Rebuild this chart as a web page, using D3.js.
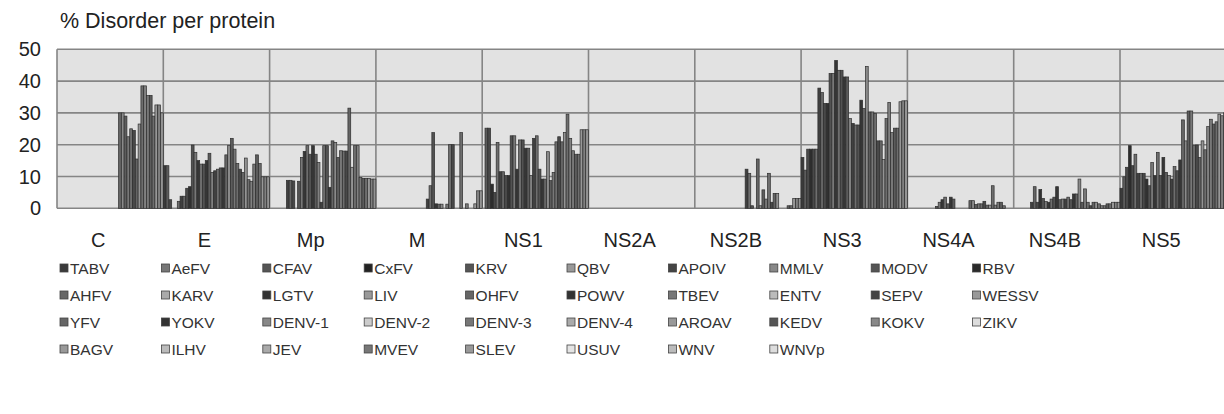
<!DOCTYPE html>
<html>
<head>
<meta charset="utf-8">
<script src="https://cdn.jsdelivr.net/npm/d3@7"></script>
<style>
	body { margin: 0; background: #fff; }
	svg { display: block; font-family: 'Liberation Sans', Arial, sans-serif; }
</style>
</head>
<body>
<svg id="chart" width="1224" height="414"></svg>
<script>

var proteins = ['C', 'E', 'Mp', 'M', 'NS1', 'NS2A', 'NS2B', 'NS3', 'NS4A', 'NS4B', 'NS5'];

var viruses = ['TABV', 'AeFV', 'CFAV', 'CxFV', 'KRV', 'QBV', 'APOIV', 'MMLV', 'MODV', 'RBV',
	'AHFV', 'KARV', 'LGTV', 'LIV', 'OHFV', 'POWV', 'TBEV', 'ENTV', 'SEPV', 'WESSV',
	'YFV', 'YOKV', 'DENV-1', 'DENV-2', 'DENV-3', 'DENV-4', 'AROAV', 'KEDV', 'KOKV', 'ZIKV',
	'BAGV', 'ILHV', 'JEV', 'MVEV', 'SLEV', 'USUV', 'WNV', 'WNVp'];

var shades = ['#3a3a3a', '#777', '#555', '#222', '#555', '#999', '#444', '#888', '#555', '#2a2a2a',
	'#666', '#aaa', '#333', '#999', '#666', '#333', '#777', '#bbb', '#444', '#999',
	'#666', '#333', '#888', '#ccc', '#777', '#aaa', '#999', '#555', '#888', '#ddd',
	'#999', '#bbb', '#aaa', '#777', '#999', '#e4e4e4', '#bbb', '#ddd'];

var yTicks = [0, 10, 20, 30, 40, 50];

// % disorder, one value per virus (same order as viruses)
var valC = [0, 0, 0, 0, 0, 0, 0, 0, 0, 0, 0, 0, 0, 0, 0, 0, 0, 0, 0, 0, 0, 0,
	30, 30, 29, 22.5, 25, 24.5, 15.5, 26.5, 38.5, 38.5, 35.5, 35.5, 29, 32.5, 32.5, 30];
var valE = [13.4, 13.4, 2.7, 0, 0, 2.2, 3.8, 3.8, 6.3, 6.8, 19.9, 17.6, 15, 13.9, 13.9, 15, 17.3, 11.3, 11.8, 12.3,
	12.7, 12.7, 16.8, 19.7, 22, 18.6, 14.1, 12.3, 11.3, 15.8, 9, 8.5, 13.9, 16.8, 14.1, 9.9, 9.9, 9.9];
var valMp = [0, 0, 0, 0, 0, 0, 8.8, 8.8, 8.6, 0, 8.5, 16, 17.9, 19.7, 17, 19.7, 17, 14.4, 1.9, 19.7,
	19.7, 6.6, 21.2, 20.7, 16, 18.1, 18, 18, 31.5, 12.9, 19.7, 19.7, 9.7, 9.4, 9.4, 9.4, 9.2, 9.2];
var valM = [0, 0, 0, 0, 0, 0, 0, 0, 0, 0, 0, 0, 0, 0, 0, 0, 0, 0, 2.9, 7.1,
	23.8, 1.4, 1.3, 1.3, 0, 1.3, 20, 20, 0, 0, 23.8, 0, 1.4, 0, 0, 1.4, 5.5, 5.5];
var valNS1 = [0, 25.2, 25.2, 7.6, 5, 20.7, 11.5, 11.5, 10.3, 10.3, 22.8, 22.8, 12.3, 21.5, 21.5, 18.9, 18.9, 10.3, 22, 22.8,
	12.3, 9.2, 9.2, 17.8, 8.7, 11.3, 20.9, 22.5, 20.9, 23.8, 29.6, 22, 18.1, 17, 17, 24.7, 24.7, 24.7];
var valNS2A = [0, 0, 0, 0, 0, 0, 0, 0, 0, 0, 0, 0, 0, 0, 0, 0, 0, 0, 0, 0,
	0, 0, 0, 0, 0, 0, 0, 0, 0, 0, 0, 0, 0, 0, 0, 0, 0, 0];
var valNS2B = [0, 0, 0, 0, 0, 0, 0, 0, 0, 0, 0, 0, 0, 0, 0, 0, 0, 0, 12.3, 11,
	0.8, 0, 15.5, 0.8, 5.8, 2.9, 11, 1.9, 4.7, 4.7, 0, 0, 0, 0.8, 0.8, 3.1, 3.1, 3.1];
var valNS3 = [16, 12, 18.6, 18.6, 18.6, 18.6, 37.8, 36.4, 33, 33, 42.4, 42.4, 46.5, 43.4, 43.4, 41.3, 41.3, 28.2, 26.7, 26.2,
	26.2, 34, 31.4, 44.6, 30.3, 30.3, 29.8, 21.2, 21.2, 15.3, 28.2, 33.3, 23.8, 25.2, 25.2, 33.5, 33.8, 33.8];
var valNS4A = [0, 0, 0, 0, 0, 0, 0, 0, 0, 0, 0.6, 1.9, 2.7, 3.5, 1.4, 3.5, 2.9, 0, 0, 0,
	0, 0, 2.4, 2.4, 1.2, 1.4, 1.4, 2.2, 1, 1, 7.1, 1, 1.9, 1.9, 0.8, 0, 0, 0];
var valNS4B = [0, 0, 0, 0, 0, 0, 1.9, 6.8, 1.9, 5.9, 3.1, 2.1, 1.9, 2.9, 3.5, 6.8, 2.7, 2.9, 2.9, 3.5,
	2.7, 4.5, 4.5, 9.2, 1.9, 6.1, 1.9, 0.8, 1.9, 1.9, 1.4, 0.8, 0.8, 1.4, 1.4, 1.9, 1.9, 1.9];
var valNS5 = [6.3, 9.9, 12.9, 19.7, 13.4, 17, 11, 11, 11, 9.2, 7.1, 14.4, 10.3, 17.6, 10.3, 16, 11.3, 10.3, 9.2, 13.1,
	11.8, 15.2, 27.8, 21.2, 30.6, 30.6, 19.7, 19.9, 16, 21.2, 18.4, 25.7, 28, 26.5, 27.2, 29.6, 29.1, 30];

var values = [valC, valE, valMp, valM, valNS1, valNS2A, valNS2B, valNS3, valNS4A, valNS4B, valNS5];

var svg = d3.select('#chart');
var plotLeft = 57, plotRight = 1226.3, plotTop = 49.3, plotBottom = 208.3;

var x = d3.scaleBand().domain(proteins).range([plotLeft, plotRight]).paddingInner(0).paddingOuter(0);
var xs = d3.scaleBand().domain(viruses).range([0, x.bandwidth()]).padding(0);
var y = d3.scaleLinear().domain([0, 50]).range([plotBottom, plotTop]);
var color = d3.scaleOrdinal().domain(viruses).range(shades);

// bars look darker than the legend swatches (thin bars, dark edges)
function barColor(v) {
	return d3.interpolateRgb(color(v), '#3a3a3a')(0.45);
}

svg.append('text')
	.attr('x', 60).attr('y', 28)
	.attr('font-size', 21.5).attr('fill', '#222')
	.text('% Disorder per protein');

// plot background
svg.append('rect')
	.attr('x', plotLeft).attr('y', plotTop)
	.attr('width', plotRight - plotLeft).attr('height', plotBottom - plotTop)
	.attr('fill', '#e2e2e2');

// grid
svg.append('g').selectAll('line').data(yTicks).join('line')
	.attr('x1', plotLeft).attr('x2', plotRight)
	.attr('y1', function(d) { return y(d); }).attr('y2', function(d) { return y(d); })
	.attr('stroke', '#858585').attr('stroke-width', 1.6);

svg.append('g').selectAll('line').data(proteins.concat(['end'])).join('line')
	.attr('x1', function(d, i) { return plotLeft + i * x.step(); })
	.attr('x2', function(d, i) { return plotLeft + i * x.step(); })
	.attr('y1', plotTop).attr('y2', plotBottom)
	.attr('stroke', '#858585').attr('stroke-width', 1.6);

// bars
var groups = svg.append('g').selectAll('g').data(proteins).join('g')
	.attr('transform', function(d) { return 'translate(' + x(d) + ',0)'; });

groups.selectAll('rect')
	.data(function(p, pi) {
		return viruses.map(function(v, vi) { return { virus: v, value: values[pi][vi] }; })
			.filter(function(d) { return d.value > 0; });
	})
	.join('rect')
	.attr('x', function(d) { return xs(d.virus); })
	.attr('width', xs.bandwidth())
	.attr('y', function(d) { return y(d.value); })
	.attr('height', function(d) { return y(0) - y(d.value); })
	.attr('fill', function(d) { return barColor(d.virus); })
	.attr('stroke', '#2e2e2e')
	.attr('stroke-width', 0.7);

// y axis labels
svg.append('g').selectAll('text').data(yTicks).join('text')
	.attr('x', 41).attr('y', function(d) { return y(d) + 7; })
	.attr('text-anchor', 'end')
	.attr('font-size', 20).attr('fill', '#222')
	.text(function(d) { return d; });

// x axis labels
svg.append('g').selectAll('text').data(proteins).join('text')
	.attr('x', function(d) { return x(d) + x.bandwidth() / 2 - 12; })
	.attr('y', 247)
	.attr('text-anchor', 'middle')
	.attr('font-size', 20).attr('fill', '#222')
	.text(function(d) { return d; });

// legend
var legend = svg.append('g').selectAll('g').data(viruses).join('g')
	.attr('transform', function(d, i) {
		return 'translate(' + (60 + (i % 10) * 101.4) + ',' + (268 + Math.floor(i / 10) * 27) + ')';
	});

legend.append('rect')
	.attr('x', 0).attr('y', -4).attr('width', 8).attr('height', 8)
	.attr('fill', function(d) { return color(d); })
	.attr('stroke', '#444').attr('stroke-width', 0.8);

legend.append('text')
	.attr('x', 10).attr('y', 5.5)
	.attr('font-size', 15.5).attr('fill', '#333')
	.text(function(d) { return d; });

</script>
</body>
</html>
